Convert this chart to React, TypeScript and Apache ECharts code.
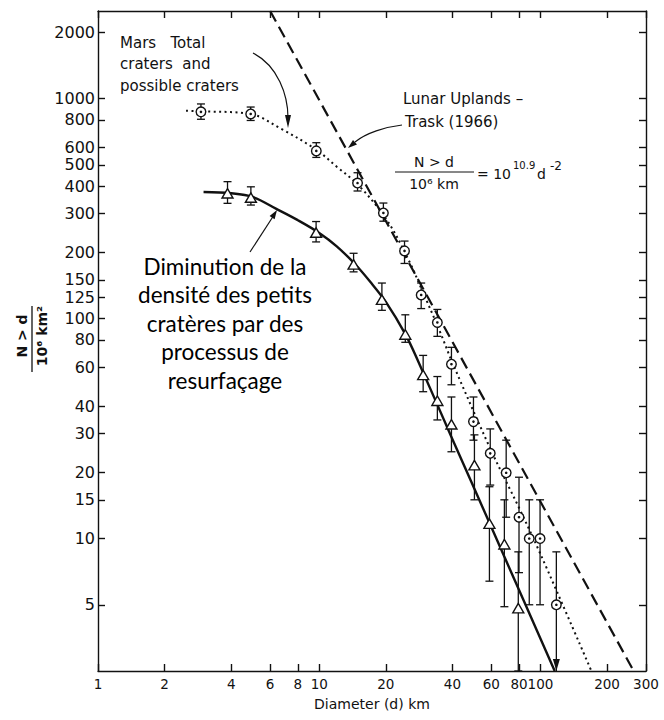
import React, { useEffect, useRef } from 'react';
import * as echarts from 'echarts';

// Axis ticks / labels (log axes)
const xTickValues = [1, 2, 4, 6, 8, 10, 20, 40, 60, 80, 100, 200, 300];
const yTickValues = [5, 10, 15, 20, 30, 40, 60, 80, 100, 125, 150, 200, 300, 400, 500, 600, 800, 1000, 2000];

// Mars: total craters and possible craters (circles)
const marsDiam = [2.92, 4.9, 9.7, 14.9, 19.5, 24.3, 28.9, 34.2, 39.6, 49.8, 59.3, 70, 80, 89, 99.6, 118];
const marsN = [870, 851, 578, 413, 302, 203, 128, 96, 62, 34, 24.4, 19.9, 12.5, 10, 10, 5];
const marsLow = [805, 795, 540, 380, 277, 178, 111, 83, 50, 28, 17.5, 12.5, 7, 5, 5, 2.5];
const marsHigh = [945, 915, 630, 460, 335, 225, 145, 110, 74, 44, 31.5, 28, 19, 15, 15, 8.7];
const marsUpperLimit = [0, 0, 0, 0, 0, 0, 0, 0, 0, 0, 0, 0, 0, 0, 0, 1];

// Mars: craters (triangles)
const triDiam = [3.85, 4.91, 9.68, 14.3, 19.2, 24.5, 29.5, 34.2, 39.6, 50.3, 58.8, 68.7, 79.4];
const triN = [368, 352, 244, 175, 121, 84, 55, 42, 32.8, 21.4, 11.6, 9.35, 4.79];
const triLow = [334, 328, 223, 163, 109, 78, 46.5, 34.6, 24.8, 15, 6.4, 4.9, 2.5];
const triHigh = [419, 397, 276, 198, 145, 104, 68, 54.5, 44, 29.6, 17.2, 15, 8.7];

// Dotted fit curve through circles
const dottedD = [2.5, 2.9, 4.9, 6.7, 9.7, 12, 15, 20, 25, 30, 35, 40, 60, 80, 100, 170];
const dottedN = [880, 876, 850, 730, 585, 490, 405, 285, 190, 126, 88, 63, 25, 13.8, 8.5, 2.5];

// Solid fit curve through triangles
const solidD = [3.0, 4, 5, 6.4, 8, 10, 12, 14.5, 17, 20, 24.5, 28, 40, 59, 116];
const solidN = [376, 371, 357, 315, 280, 245, 213, 177, 147, 119, 85, 64, 28.3, 11.7, 2.5];

// Lunar uplands – Trask (1966) line
const lunarD = [6.0, 264];
const lunarN = [2500, 2.5];

const INK = '#111';

function zip(a: number[], b: number[]) {
  return a.map((v, i) => [v, b[i]]);
}

function makeRender(kind: 'circle' | 'triangle') {
  return (params: any, api: any) => {
    const x = api.value(0);
    const y = api.value(1);
    const lo = api.value(2);
    const hi = api.value(3);
    const lim = api.value(4);
    const c = api.coord([x, y]);
    const l = api.coord([x, lo]);
    const h = api.coord([x, hi]);
    const cap = 4;
    const st = { stroke: INK, lineWidth: 1.3 };
    const children: any[] = [
      { type: 'line', shape: { x1: c[0], y1: l[1], x2: c[0], y2: h[1] }, style: st },
      { type: 'line', shape: { x1: c[0] - cap, y1: h[1], x2: c[0] + cap, y2: h[1] }, style: st },
    ];
    if (lim) {
      children.push({
        type: 'polygon',
        shape: { points: [[c[0] - 3.5, l[1] - 12], [c[0] + 3.5, l[1] - 12], [c[0], l[1]]] },
        style: { fill: INK },
      });
    } else {
      children.push({ type: 'line', shape: { x1: c[0] - cap, y1: l[1], x2: c[0] + cap, y2: l[1] }, style: st });
    }
    if (kind === 'circle') {
      children.push({ type: 'circle', shape: { cx: c[0], cy: c[1], r: 4.8 }, style: { fill: '#fff', stroke: INK, lineWidth: 1.4 } });
      children.push({ type: 'circle', shape: { cx: c[0], cy: c[1], r: 1.3 }, style: { fill: INK } });
    } else {
      children.push({
        type: 'polygon',
        shape: { points: [[c[0], c[1] - 5.5], [c[0] - 5.5, c[1] + 4], [c[0] + 5.5, c[1] + 4]] },
        style: { fill: '#fff', stroke: INK, lineWidth: 1.4 },
      });
    }
    return { type: 'group', children };
  };
}

const annFont = '15px "DejaVu Sans"';

export default function App() {
  const ref = useRef<HTMLDivElement>(null);
  useEffect(() => {
    document.body.style.margin = '0';
    const chart = echarts.init(ref.current!, null, { renderer: 'svg' });
    const axisCommon = {
      type: 'log',
      logBase: 10,
      axisLine: { show: true, onZero: false, lineStyle: { color: INK, width: 1.4 } },
      splitLine: { show: false },
      minorTick: { show: false },
      minorSplitLine: { show: false },
    };
    const option: any = {
      animation: false,
      backgroundColor: '#fff',
      textStyle: { fontFamily: 'DejaVu Sans' },
      grid: { left: 98, right: 18, top: 11, bottom: 49, containLabel: false, outerBoundsMode: 'none' },
      xAxis: [
        {
          ...axisCommon,
          min: 1,
          max: 300,
          position: 'bottom',
          axisTick: { show: true, inside: true, length: 7, customValues: xTickValues, lineStyle: { color: INK, width: 1.4 } },
          axisLabel: {
            show: true, customValues: xTickValues, margin: 6, color: INK, fontSize: 13.5, fontFamily: 'DejaVu Sans',
            formatter: (v: number) => String(Math.round(v)),
          },
          name: 'Diameter (d) km',
          nameLocation: 'middle',
          nameGap: 26,
          nameTextStyle: { color: INK, fontSize: 14, fontFamily: 'DejaVu Sans' },
        },
        {
          ...axisCommon,
          min: 1,
          max: 300,
          position: 'top',
          axisTick: { show: true, inside: true, length: 7, customValues: xTickValues, lineStyle: { color: INK, width: 1.4 } },
          axisLabel: { show: false },
        },
      ],
      yAxis: [
        {
          ...axisCommon,
          min: 2.5,
          max: 2500,
          position: 'left',
          axisTick: { show: true, inside: true, length: 7, customValues: yTickValues, lineStyle: { color: INK, width: 1.4 } },
          axisLabel: {
            show: true, customValues: yTickValues, margin: 3, color: INK, fontSize: 16, fontFamily: 'DejaVu Sans',
            formatter: (v: number) => String(Math.round(v)),
          },
        },
        {
          ...axisCommon,
          min: 2.5,
          max: 2500,
          position: 'right',
          axisTick: { show: true, inside: true, length: 7, customValues: yTickValues, lineStyle: { color: INK, width: 1.4 } },
          axisLabel: { show: false },
        },
      ],
      series: [
        {
          type: 'line',
          data: zip(lunarD, lunarN),
          showSymbol: false,
          lineStyle: { color: INK, width: 2.2, type: [12, 6] },
          z: 2,
        },
        {
          type: 'line',
          data: zip(dottedD, dottedN),
          showSymbol: false,
          smooth: 0.35,
          lineStyle: { color: INK, width: 2, type: [2, 3.5] },
          z: 2,
        },
        {
          type: 'line',
          data: zip(solidD, solidN),
          showSymbol: false,
          smooth: 0.35,
          lineStyle: { color: INK, width: 2.4 },
          z: 2,
        },
        {
          type: 'custom',
          renderItem: makeRender('circle'),
          encode: { x: 0, y: 1 },
          data: marsDiam.map((d, i) => [d, marsN[i], marsLow[i], marsHigh[i], marsUpperLimit[i]]),
          z: 5,
          clip: false,
        },
        {
          type: 'custom',
          renderItem: makeRender('triangle'),
          encode: { x: 0, y: 1 },
          data: triDiam.map((d, i) => [d, triN[i], triLow[i], triHigh[i], 0]),
          z: 5,
          clip: false,
        },
      ],
      graphic: [
        // Mars label + arrow
        { type: 'text', x: 120, y: 43, style: { text: 'Mars   Total', font: annFont, fill: INK, textVerticalAlign: 'middle' } },
        { type: 'text', x: 120, y: 64, style: { text: 'craters  and', font: annFont, fill: INK, textVerticalAlign: 'middle' } },
        { type: 'text', x: 120, y: 86, style: { text: 'possible craters', font: annFont, fill: INK, textVerticalAlign: 'middle' } },
        { type: 'bezierCurve', shape: { x1: 253, y1: 53, cpx1: 278, cpy1: 66, cpx2: 288, cpy2: 95, x2: 288, y2: 118 }, style: { stroke: INK, lineWidth: 1.2, fill: null } },
        { type: 'polygon', shape: { points: [[285, 115], [291, 115], [288, 128]] }, style: { fill: INK } },
        // Lunar label + arrow
        { type: 'text', x: 403, y: 99, style: { text: 'Lunar Uplands –', font: annFont, fill: INK, textVerticalAlign: 'middle' } },
        { type: 'text', x: 405, y: 122, style: { text: 'Trask (1966)', font: annFont, fill: INK, textVerticalAlign: 'middle' } },
        { type: 'bezierCurve', shape: { x1: 402, y1: 125, cpx1: 385, cpy1: 127, cpx2: 366, cpy2: 133, x2: 355, y2: 142 }, style: { stroke: INK, lineWidth: 1.2, fill: null } },
        { type: 'polygon', shape: { points: [[348, 148], [357, 144.5], [353, 139.9]] }, style: { fill: INK } },
        // Formula
        { type: 'text', x: 434, y: 162, style: { text: 'N > d', font: '14px "DejaVu Sans"', fill: INK, textAlign: 'center', textVerticalAlign: 'middle' } },
        { type: 'line', shape: { x1: 395, y1: 172, x2: 474, y2: 172 }, style: { stroke: INK, lineWidth: 1 } },
        { type: 'text', x: 434, y: 184, style: { text: '10⁶ km', font: '14px "DejaVu Sans"', fill: INK, textAlign: 'center', textVerticalAlign: 'middle' } },
        { type: 'text', x: 477, y: 174, style: { text: '= 10', font: '14px "DejaVu Sans"', fill: INK, textVerticalAlign: 'middle' } },
        { type: 'text', x: 513, y: 165, style: { text: '10.9', font: '10px "DejaVu Sans"', fill: INK, textVerticalAlign: 'middle' } },
        { type: 'text', x: 537, y: 174, style: { text: 'd', font: '14px "DejaVu Sans"', fill: INK, textVerticalAlign: 'middle' } },
        { type: 'text', x: 550, y: 166, style: { text: '-2', font: '12px "DejaVu Sans"', fill: INK, textVerticalAlign: 'middle' } },
        // Y axis title (rotated fraction)
        { type: 'text', x: 22, y: 336, rotation: Math.PI / 2, style: { text: 'N > d', font: 'bold 14px "DejaVu Sans"', fill: INK, textAlign: 'center', textVerticalAlign: 'middle' } },
        { type: 'line', shape: { x1: 32, y1: 306, x2: 32, y2: 372 }, style: { stroke: INK, lineWidth: 1.3 } },
        { type: 'text', x: 42, y: 336, rotation: Math.PI / 2, style: { text: '10⁶ km²', font: 'bold 14px "DejaVu Sans"', fill: INK, textAlign: 'center', textVerticalAlign: 'middle' } },
        // French annotation + arrow
        {
          type: 'text', x: 225, y: 252,
          style: {
            text: 'Diminution de la\ndensité des petits\ncratères par des\nprocessus de\nresurfaçage',
            font: '22.5px Lato', lineHeight: 28.5, fill: '#000', textAlign: 'center', textVerticalAlign: 'top',
          },
        },
        { type: 'line', shape: { x1: 250, y1: 252, x2: 274, y2: 215 }, style: { stroke: INK, lineWidth: 1.2 } },
        { type: 'polygon', shape: { points: [[277, 210], [274.6, 219.2], [269.6, 216.0]] }, style: { fill: INK } },
      ],
    };
    chart.setOption(option);
    return () => chart.dispose();
  }, []);
  return <div ref={ref} style={{ width: 664, height: 720 }} />;
}
